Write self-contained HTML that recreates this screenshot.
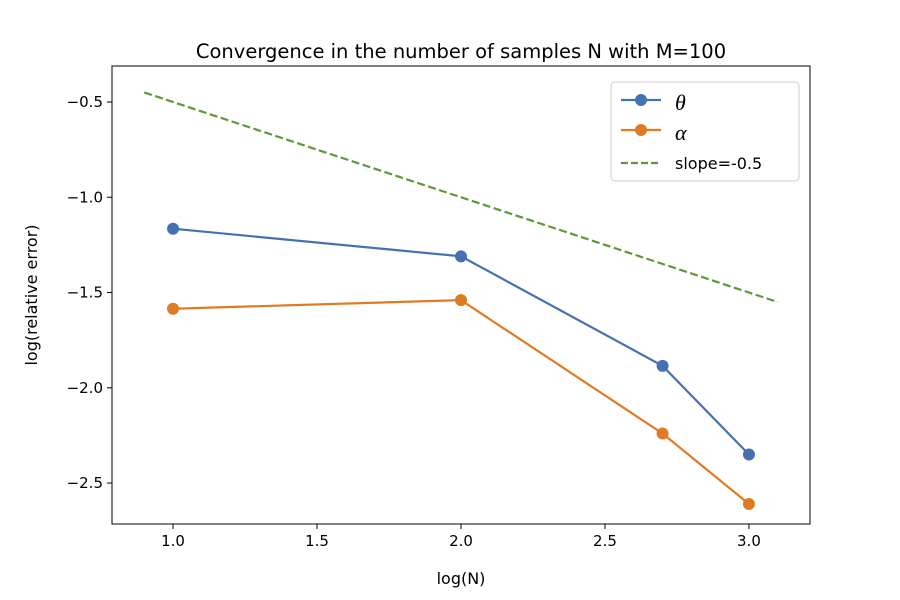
<!DOCTYPE html>
<html><head><meta charset="utf-8">
<style>
body{margin:0;background:#fff;}
svg{display:block;font-family:"DejaVu Sans","Liberation Sans",sans-serif;}
</style></head>
<body>
<svg id="chart" width="900" height="600" viewBox="0 0 900 600">
<rect width="900" height="600" fill="#fff"/>
<text x="461" y="58" font-size="19.5" text-anchor="middle">Convergence in the number of samples N with M=100</text>
<g id="plot"></g>
<text x="461" y="584" font-size="16" text-anchor="middle">log(N)</text>
<text transform="translate(37,295) rotate(-90)" font-size="16" text-anchor="middle">log(relative error)</text>
<g>
<rect x="611" y="82" width="188" height="99" rx="4" fill="#fff" stroke="#ccc"/>
<g>
<line x1="621" y1="100" x2="661" y2="100" stroke="#4571b0" stroke-width="2.2"/>
<circle cx="641" cy="100" r="6" fill="#4571b0"/>
<text x="675" y="110" font-size="22" font-style="italic" font-family="Liberation Serif,serif">θ</text>
</g>
<g>
<line x1="621" y1="130" x2="661" y2="130" stroke="#e07b24" stroke-width="2.2"/>
<circle cx="641" cy="130" r="6" fill="#e07b24"/>
<text x="675" y="140" font-size="22" font-style="italic" font-family="Liberation Serif,serif">α</text>
</g>
<g>
<line x1="621" y1="163" x2="661" y2="163" stroke="#5b9a3a" stroke-width="2.2" stroke-dasharray="7,3"/>
<text x="675" y="169" font-size="16">slope=-0.5</text>
</g>
</g>
</svg>
<script>
const xCats=[1,2,2.7,3];
const thetaVals=[-1.165,-1.31,-1.885,-2.35];
const alphaVals=[-1.585,-1.54,-2.24,-2.61];
const slopeX=[0.9,3.1];
const slopeY=[-0.45,-1.55];
const xTicks=[1.0,1.5,2.0,2.5,3.0];
const yTicks=[-0.5,-1.0,-1.5,-2.0,-2.5];

const L=112,R=810,T=66,B=524;
const x0=0.788,x1=3.212,y0=-2.715,y1=-0.311;
const sx=v=>L+(v-x0)/(x1-x0)*(R-L);
const sy=v=>B-(v-y0)/(y1-y0)*(B-T);
const NS="http://www.w3.org/2000/svg";
const g=document.getElementById('plot');
function mk(tag,attrs,parent){const e=document.createElementNS(NS,tag);for(const k in attrs)e.setAttribute(k,attrs[k]);(parent||g).appendChild(e);return e;}

xTicks.forEach(t=>{
 const tk=mk('line',{x1:sx(t),x2:sx(t),y1:B,y2:B+5,stroke:'#000','stroke-width':1});
 
 
 const lb=mk('text',{x:sx(t),y:B+22,'font-size':15,'text-anchor':'middle'});
 lb.textContent=t.toFixed(1);
 
 
});
yTicks.forEach(t=>{
 const tk=mk('line',{x1:L-5,x2:L,y1:sy(t),y2:sy(t),stroke:'#000','stroke-width':1});
 
 
 const lb=mk('text',{x:L-9,y:sy(t)+5,'font-size':15,'text-anchor':'end'});
 lb.textContent='\u2212'+Math.abs(t).toFixed(1);
 
 
});

const sl=mk('line',{x1:sx(slopeX[0]),y1:sy(slopeY[0]),x2:sx(slopeX[1]),y2:sy(slopeY[1]),stroke:'#5b9a3a','stroke-width':2.2,'stroke-dasharray':'8,3.5'});



function series(vals,color,name){
 const p=mk('polyline',{points:xCats.map((x,i)=>sx(x)+','+sy(vals[i])).join(' '),fill:'none',stroke:color,'stroke-width':2.2});
 
 
 vals.forEach((v,i)=>{
  const c=mk('circle',{cx:sx(xCats[i]),cy:sy(v),r:6,fill:color});
  
  
 });
}
series(thetaVals,'#4571b0','theta');
series(alphaVals,'#e07b24','alpha');

const fr=mk('rect',{x:L,y:T,width:R-L,height:B-T,fill:'none',stroke:'#000','stroke-width':1});


</script>
</body></html>
